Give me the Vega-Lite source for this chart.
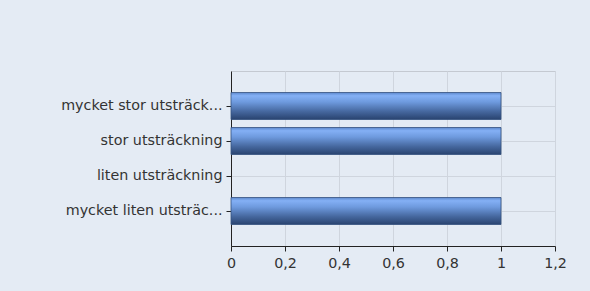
{
  "$schema": "https://vega.github.io/schema/vega-lite/v6.json",
  "width": 324,
  "height": 175,
  "autosize": {"type": "none"},
  "padding": {"left": 231, "top": 71, "right": 35, "bottom": 45},
  "background": "#e4ebf4",
  "data": {
    "values": [
      {"category": "mycket stor utsträckning", "value": 1},
      {"category": "stor utsträckning", "value": 1},
      {"category": "liten utsträckning", "value": 0},
      {"category": "mycket liten utsträckning", "value": 1}
    ]
  },
  "mark": {
    "type": "bar",
    "size": 27,
    "stroke": "#34507f",
    "strokeWidth": 0.8,
    "color": {
      "gradient": "linear",
      "x1": 0, "y1": 0, "x2": 0, "y2": 1,
      "stops": [
        {"offset": 0, "color": "#5d88cc"},
        {"offset": 0.12, "color": "#84b0f5"},
        {"offset": 0.35, "color": "#6e9ade"},
        {"offset": 0.7, "color": "#46689f"},
        {"offset": 1, "color": "#29436f"}
      ]
    }
  },
  "encoding": {
    "y": {
      "field": "category",
      "type": "nominal",
      "sort": ["mycket stor utsträckning", "stor utsträckning", "liten utsträckning", "mycket liten utsträckning"],
      "scale": {"paddingInner": 0, "paddingOuter": 0.5},
      "axis": {
        "title": null,
        "bandPosition": 0.5,
        "grid": true,
        "gridColor": "#cfd5de",
        "domainColor": "#222222",
        "tickColor": "#222222",
        "tickSize": 5,
        "labelPadding": 4,
        "labelLimit": 300,
        "labelExpr": "length(datum.label) > 20 ? substring(datum.label, 0, 20) + '...' : datum.label"
      }
    },
    "x": {
      "field": "value",
      "type": "quantitative",
      "scale": {"domain": [0, 1.2], "nice": false},
      "axis": {
        "title": null,
        "values": [0, 0.2, 0.4, 0.6, 0.8, 1, 1.2],
        "grid": true,
        "gridColor": "#cfd5de",
        "domainColor": "#222222",
        "tickColor": "#222222",
        "tickSize": 5,
        "labelPadding": 5,
        "labelFlush": false,
        "labelExpr": "replace(format(datum.value, '~g'), '.', ',')"
      }
    },
    "strokeOpacity": {
      "condition": {"test": "datum.value == 0", "value": 0},
      "value": 1
    }
  },
  "config": {
    "view": {"stroke": "#c4c9d1", "strokeWidth": 1},
    "axis": {
      "labelFont": "DejaVu Sans",
      "labelFontSize": 14.3,
      "labelColor": "#333333",
      "domainWidth": 1,
      "tickWidth": 1
    }
  }
}
